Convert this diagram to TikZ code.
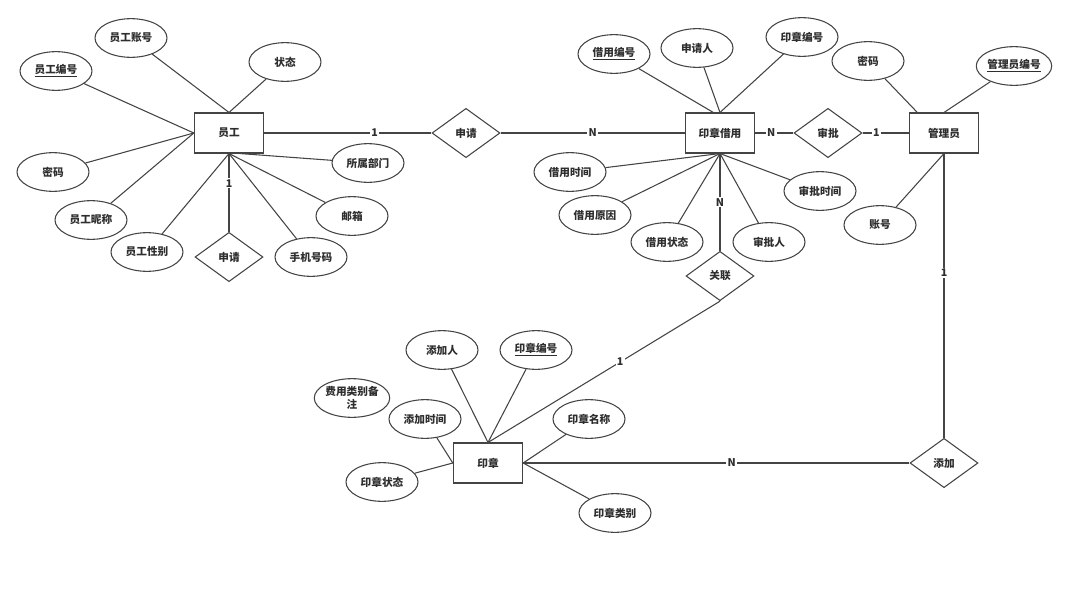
\documentclass[tikz,border=0pt]{standalone}
\usepackage{fontspec}
\setmainfont{Noto Sans CJK SC}
\usetikzlibrary{shapes.geometric}
\definecolor{lnc}{HTML}{444444}
\definecolor{txt}{HTML}{2E2E2E}

\begin{document}
\begin{tikzpicture}[x=0.75pt, y=-0.75pt,
    font=\fontsize{8}{10}\selectfont\bfseries, text=txt,
    entity/.style={rectangle, draw=lnc, line width=0.8pt, minimum width=52pt, minimum height=30pt, inner sep=0pt},
    attr/.style={ellipse, draw=lnc, line width=0.8pt, minimum width=54pt, minimum height=29pt, inner sep=0pt, align=center},
    rel/.style={diamond, draw=lnc, line width=0.8pt, minimum width=51pt, minimum height=37pt, inner sep=0pt},
    conn/.style={draw=lnc, line width=0.8pt},
    card/.style={fill=white, inner sep=1pt}]
  \useasboundingbox (0,0) rectangle (1068,600);

  % Entities
  \node[entity] (yg)   at (229,133) {员工};
  \node[entity] (yzjy) at (720,133) {印章借用};
  \node[entity] (gly)  at (944,133) {管理员};
  \node[entity] (yz)   at (488,463) {印章};

  % Relations
  \node[rel] (sq1) at (466,133) {申请};
  \node[rel] (sq2) at (229,257) {申请};
  \node[rel] (sp)  at (828,133) {审批};
  \node[rel] (gl)  at (720,276) {关联};
  \node[rel] (tj)  at (944,463) {添加};

  % Attributes of 员工
  \node[attr] (ygzh) at (131,38)  {员工账号};
  \node[attr] (ygbh) at (56,71)   {\underline{员工编号}};
  \node[attr] (ygzt) at (285,62)  {状态};
  \node[attr] (ygmm) at (53,172)  {密码};
  \node[attr] (ygnc) at (91,220)  {员工昵称};
  \node[attr] (ygxb) at (147,252) {员工性别};
  \node[attr] (ygsj) at (311,257) {手机号码};
  \node[attr] (ygyx) at (352,216) {邮箱};
  \node[attr] (ygbm) at (368,163) {所属部门};
  \foreach \a in {ygzh,ygzt} \draw[conn] (\a) -- (yg.north);
  \foreach \a in {ygbh,ygmm,ygnc} \draw[conn] (\a) -- (yg.west);
  \foreach \a in {ygxb,ygsj,ygyx} \draw[conn] (\a) -- (yg.south);
  \draw[conn] (ygbm) -- ([xshift=8pt]yg.south);

  % Attributes of 印章借用
  \node[attr] (jybh) at (614,54)  {\underline{借用编号}};
  \node[attr] (sqr)  at (697,48)  {申请人};
  \node[attr] (jyyz) at (802,37)  {印章编号};
  \node[attr] (jysj) at (570,172) {借用时间};
  \node[attr] (jyyy) at (595,215) {借用原因};
  \node[attr] (jyzt) at (667,242) {借用状态};
  \node[attr] (spr)  at (769,242) {审批人};
  \node[attr] (spsj) at (820,191) {审批时间};
  \draw[conn] (jybh) -- ([xshift=-5pt]yzjy.north);
  \foreach \a in {sqr,jyyz} \draw[conn] (\a) -- (yzjy.north);
  \foreach \a in {jysj,jyyy,jyzt,spr,spsj} \draw[conn] (\a) -- (yzjy.south);

  % Attributes of 管理员
  \node[attr] (glmm) at (868,61)  {密码};
  \node[attr] (glbh) at (1014,66) {\underline{管理员编号}};
  \node[attr] (glzh) at (880,225) {账号};
  \draw[conn] (glmm) -- ([xshift=-20pt]gly.north);
  \draw[conn] (glbh) -- (gly.north);
  \draw[conn] (glzh) -- (gly.south);

  % Attributes of 印章
  \node[attr] (tjr)  at (442,350) {添加人};
  \node[attr] (yzbh) at (536,350) {\underline{印章编号}};
  \node[attr] (fybz) at (352,398) {费用类别备\\注};
  \node[attr] (tjsj) at (425,419) {添加时间};
  \node[attr] (yzmc) at (589,419) {印章名称};
  \node[attr] (yzzt) at (382,482) {印章状态};
  \node[attr] (yzlb) at (615,513) {印章类别};
  \foreach \a in {tjr,yzbh} \draw[conn] (\a) -- (yz.north);
  \foreach \a in {tjsj,yzzt} \draw[conn] (\a) -- (yz.west);
  \foreach \a in {yzmc,yzlb} \draw[conn] (\a) -- (yz.east);

  % Relationships
  \draw[conn] (yg) -- node[card, pos=.66] {1} (sq1);
  \draw[conn] (sq1) -- node[card, pos=.5] {N} (yzjy);
  \draw[conn] (yzjy) -- node[card, pos=.42] {N} (sp);
  \draw[conn] (sp) -- node[card, pos=.3] {1} (gly);
  \draw[conn] (yg.south) -- node[card, pos=.38] {1} (sq2.north);
  \draw[conn] (yzjy.south) -- node[card, pos=.5] {N} (gl.north);
  \draw[conn] (gl.south) -- node[card, pos=.43] {1} (yz.north);
  \draw[conn] (gly.south) -- node[card, pos=.42] {1} (tj.north);
  \draw[conn] (yz) -- node[card, pos=.54] {N} (tj);
\end{tikzpicture}
\end{document}
